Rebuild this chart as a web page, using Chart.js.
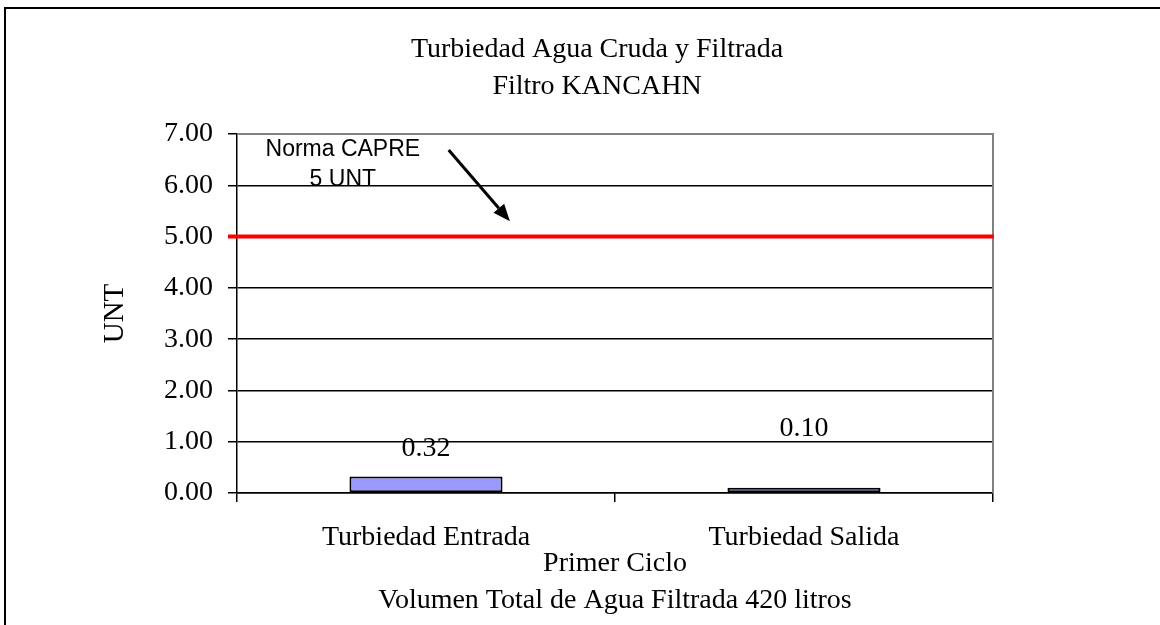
<!DOCTYPE html>
<html>
<head>
<meta charset="utf-8">
<script src="https://cdn.jsdelivr.net/npm/chart.js"></script>
<style>
    html, body { margin: 0; padding: 0; background: #fff; overflow: hidden; }
    #frame { position: absolute; left: 4px; top: 7px; width: 1400px; height: 900px;
             border-left: 2px solid #000; border-top: 2px solid #000; }
    #chart { position: absolute; left: 0; top: 0; }
</style>
</head>
<body>
<div id="frame"></div>
<canvas id="chart" width="1160" height="625"></canvas>
<script>
// Chart data
const categories = ['Turbiedad Entrada', 'Turbiedad Salida'];
const turbidity = [0.32, 0.10];
const yTicks = [0, 1, 2, 3, 4, 5, 6, 7];
const normaCapre = 5;
const titleLines = ['Turbiedad Agua Cruda y Filtrada', 'Filtro KANCAHN'];
const xTitleLines = ['Primer Ciclo', 'Volumen Total de Agua Filtrada 420 litros'];
const normaLabel = ['Norma CAPRE', '5 UNT'];

// Styling
const SERIF = '"Liberation Serif", "Times New Roman", serif';
const SANS = '"Liberation Sans", Arial, sans-serif';
const labelLift = [21, 52]; // px above bar top, as placed in the original
// annotation placement, in (category index, UNT) coordinates
const notePos = { x: -0.22, lines: [6.58, 5.99] };
const arrowFrom = { x: 0.06, y: 6.69 };
const arrowTo = { x: 0.222, y: 5.30 };

const overlayPlugin = {
    id: 'overlay',
    afterDatasetsDraw(chart) {
        const { ctx, chartArea, scales: { x, y } } = chart;
        ctx.save();

        // plot area border (top + right) in grey
        ctx.strokeStyle = '#808080';
        ctx.lineWidth = 2;
        ctx.beginPath();
        ctx.moveTo(chartArea.left, chartArea.top);
        ctx.lineTo(chartArea.right, chartArea.top);
        ctx.lineTo(chartArea.right, chartArea.bottom);
        ctx.stroke();

        // norm line
        const ny = y.getPixelForValue(normaCapre);
        ctx.strokeStyle = '#ff0000';
        ctx.lineWidth = 4;
        ctx.beginPath();
        ctx.moveTo(chartArea.left - 9, ny);
        ctx.lineTo(chartArea.right + 1, ny);
        ctx.stroke();

        // value labels
        ctx.fillStyle = '#000';
        ctx.font = '28px ' + SERIF;
        ctx.textAlign = 'center';
        ctx.textBaseline = 'alphabetic';
        chart.getDatasetMeta(0).data.forEach((bar, i) => {
            ctx.fillText(turbidity[i].toFixed(2), bar.x, bar.y - labelLift[i]);
        });

        // annotation text
        ctx.font = '23px ' + SANS;
        normaLabel.forEach((t, i) => {
            ctx.fillText(t, x.getPixelForValue(notePos.x), y.getPixelForValue(notePos.lines[i]));
        });

        // arrow
        const x0 = x.getPixelForValue(arrowFrom.x), y0 = y.getPixelForValue(arrowFrom.y);
        const x1 = x.getPixelForValue(arrowTo.x), y1 = y.getPixelForValue(arrowTo.y);
        const ang = Math.atan2(y1 - y0, x1 - x0);
        const headLen = 17, headW = 7;
        const bx = x1 - headLen * Math.cos(ang), by = y1 - headLen * Math.sin(ang);
        ctx.strokeStyle = '#000';
        ctx.lineWidth = 3;
        ctx.beginPath();
        ctx.moveTo(x0, y0);
        ctx.lineTo(bx, by);
        ctx.stroke();
        ctx.beginPath();
        ctx.moveTo(x1, y1);
        ctx.lineTo(bx + headW * Math.sin(ang), by - headW * Math.cos(ang));
        ctx.lineTo(bx - headW * Math.sin(ang), by + headW * Math.cos(ang));
        ctx.closePath();
        ctx.fill();

        ctx.restore();
    }
};

new Chart(document.getElementById('chart'), {
    type: 'bar',
    data: {
        labels: categories,
        datasets: [{
            data: turbidity,
            backgroundColor: '#9999ff',
            borderColor: '#000',
            borderWidth: 2,
            borderSkipped: false,
            barPercentage: 0.405,
            categoryPercentage: 1
        }]
    },
    options: {
        responsive: false,
        animation: false,
        devicePixelRatio: 1,
        layout: { padding: { left: 34, right: 0, top: 0, bottom: 0 } },
        plugins: {
            legend: { display: false },
            tooltip: { enabled: false },
            title: {
                display: true,
                text: titleLines,
                color: '#000',
                font: { family: SERIF, size: 28, weight: 'normal', lineHeight: 37 / 28 },
                padding: { top: 31, bottom: 29 }
            }
        },
        scales: {
            x: {
                offset: true,
                grid: { drawOnChartArea: false, drawTicks: true, tickLength: 9, color: '#000', lineWidth: 1.5, offset: true },
                border: { color: '#000', width: 1.5 },
                ticks: { color: '#000', font: { family: SERIF, size: 28 }, padding: 19, maxRotation: 0, autoSkip: false },
                title: {
                    display: true,
                    text: xTitleLines,
                    color: '#000',
                    font: { family: SERIF, size: 28, lineHeight: 37 / 28 },
                    padding: { top: 0, bottom: 5.5 }
                },
                afterFit(s) { s.height = 132; }
            },
            y: {
                min: yTicks[0],
                max: yTicks[yTicks.length - 1],
                ticks: {
                    stepSize: 1,
                    color: '#000',
                    font: { family: SERIF, size: 28 },
                    padding: 15,
                    callback: v => v.toFixed(2)
                },
                grid: {
                    color: c => (c.tick && c.tick.value === yTicks[yTicks.length - 1]) ? '#808080' : '#000',
                    tickColor: '#000',
                    lineWidth: 1.5,
                    tickLength: 9
                },
                border: { color: '#000', width: 1.5 },
                title: {
                    display: true,
                    text: 'UNT',
                    color: '#000',
                    font: { family: SERIF, size: 29 },
                    padding: { top: 64, bottom: 0 }
                },
                afterFit(s) { s.width = 203; }
            },
            yRight: {
                position: 'right',
                ticks: { display: false },
                grid: { display: false },
                border: { display: false },
                afterFit(s) { s.width = 167; }
            }
        }
    },
    plugins: [overlayPlugin]
});
</script>
</body>
</html>
